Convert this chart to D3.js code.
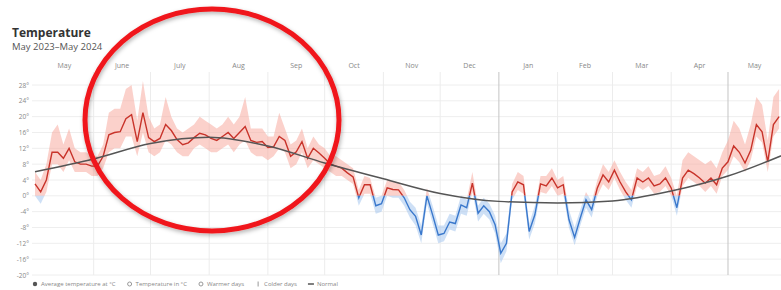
<!DOCTYPE html>
<html>
<head>
<meta charset="utf-8">
<script src="https://cdn.jsdelivr.net/npm/d3@7"></script>
<style>
  body { margin: 0; background: #fff; }
  svg { display: block; font-family: "Open Sans", "DejaVu Sans", sans-serif; }
</style>
</head>
<body>
<svg width="781" height="290"></svg>
<script>
const width = 781;
const height = 290;

// readings every 3 days from 1 May 2023
const startDate = new Date(2023, 4, 1);
const stepDays = 3;

const meanTemp = [
  3, 1, 4, 11, 11, 9.5, 12, 8.6, 8, 8, 7.5, 7.5, 10,
  15.4, 16, 16.2, 19.5, 20.5, 13.7, 21, 14.7,
  13.7, 14.5, 18, 16.5, 14.2, 12.9, 13.4, 14.7, 15.8, 15.4, 14.5, 14, 15, 16, 14.5, 16, 17.5, 14, 13.5, 13.7,
  12.2, 12.4, 15, 14, 10, 11.1, 13.7, 9.5, 12, 10.8, 9.5, 8, 7.5, 7, 5.8, 4.8,
  -0.5, 2.8, 2.8, -2.5, -2, 2, 1.6, 1.5, -0.5, -3.5, -5.2, -9.9, 0, -4.8, -9.9, -9.5, -6.6, -7, -2.3, -3,
  3.2, -4.4, -2.5, -4, -7.3, -14.5, -12, 1, 3.5, 2.8, -9, -4.8, 3, 2.5, 4.5, 2, 2.8, -6, -10.5, -5.6, -1,
  -3.5, 2, 5.3, 3.5, 6.5, 3.5, 1, -1, 4.5, 3.5, 4.5, 2.5, 3, 4.5, 2, -3, 4.5, 6.5, 5.6, 4.5, 3.2, 4.5,
  2.8, 7, 8.6, 12.6, 11, 8.3, 11.5, 18, 16.2, 8.6, 18, 20
];

const maxTemp = [
  6, 4, 8, 16, 18, 13, 17, 12, 11, 11, 10, 10, 13,
  21, 22, 22, 27, 28, 19, 29, 20,
  17, 18, 25, 20, 17, 16, 17, 18, 20, 19, 18, 17, 18, 20, 18, 20, 25, 17, 17, 17,
  15, 15, 21, 17, 13, 14, 17, 12, 15, 13, 12, 10, 10, 9, 8, 7,
  1.5, 5, 4.5, -0.5, 0, 4, 3.5, 3.5, 1.5, -1.5, -3, -7.5, 2, -2.5, -7.5, -7.5, -4.5, -5, 0, -1,
  6, -2.5, -0.5, -2, -5, -12, -9.5, 3, 6, 5, -7, -2.5, 5, 5, 7, 4, 5, -3.5, -8, -3.5, 1,
  -1.5, 4, 8, 6, 9, 6, 3.5, 1.5, 7, 6, 7.5, 5, 5.5, 7.5, 4.5, 0, 9, 11, 10, 9, 8, 9,
  7, 11, 14, 19, 17, 13, 18, 25, 23, 14, 25, 27
];

const minTemp = [
  0, -2, 1, 8, 8, 6, 9, 6, 6, 6, 5, 5, 7,
  11, 12, 12, 15, 15, 10, 16, 11,
  10, 11, 14, 13, 11, 10, 10, 12, 13, 12, 11, 11, 12, 13, 11, 13, 14, 11, 10, 10,
  9, 10, 12, 11, 7, 8, 11, 7, 9, 8, 7, 6, 5, 5, 4, 3,
  -2.5, 0.5, 0.5, -4.5, -4, 0, -0.5, -0.5, -2.5, -5.5, -7.5, -12, -2, -7, -12, -11.5, -8.5, -9, -4.5, -5,
  1, -6.5, -4.5, -6, -9.5, -17, -14, -1, 1.5, 0.5, -11, -7, 1, 0.5, 2.5, 0, 0.5, -8, -12.5, -7.5, -3,
  -5.5, 0, 3, 1.5, 4.5, 1.5, -1, -3, 2.5, 1.5, 2.5, 0.5, 1, 2.5, 0, -5, 2.5, 4.5, 3.5, 2.5, 1, 2.5,
  0.5, 5, 6.5, 10, 8.5, 6, 9, 15, 13.5, 6, 15, 17
];

// normal curve, value on the 1st of each month (May 2023 .. Jun 2024)
const normalTemp = [6.1, 9.3, 13.2, 14.8, 12.6, 8.3, 4.3, 0.6, -1.4, -1.8, -1.3, 1.2, 5.0, 10.7];

const monthLabels = ["May", "June", "July", "Aug", "Sep", "Oct", "Nov", "Dec", "Jan", "Feb", "Mar", "Apr", "May"];
const yTicks = [28, 24, 20, 16, 12, 8, 4, 0, -4, -8, -12, -16, -20];

const legendItems = [
  { label: "Average temperature at °C", type: "dot", color: "#555" },
  { label: "Temperature in °C", type: "ring", color: "#999" },
  { label: "Warmer days", type: "ring", color: "#999" },
  { label: "Colder days", type: "bar", color: "#999" },
  { label: "Normal", type: "line", color: "#555" }
];

const days = meanTemp.map((v, i) => ({
  date: d3.timeDay.offset(startDate, i * stepDays),
  mean: v,
  max: maxTemp[i],
  min: minTemp[i]
}));
const normals = normalTemp.map((v, i) => ({ date: d3.timeMonth.offset(startDate, i), value: v }));

const plotTop = 72, plotBottom = 275, plotLeft = 32;

const x = d3.scaleTime()
  .domain([startDate, new Date(2024, 4, 29)])
  .range([35, width]);

const y = d3.scaleLinear()
  .domain([-20, 28])
  .range([275, 85]);

const svg = d3.select("svg");
const defs = svg.append("defs");

// title
svg.append("text")
  .attr("x", 12).attr("y", 37)
  .attr("font-size", 12).attr("font-weight", 700).attr("fill", "#333")
  .text("Temperature");
svg.append("text")
  .attr("x", 12).attr("y", 50)
  .attr("font-size", 9.5).attr("fill", "#555")
  .text("May 2023–May 2024");

// horizontal grid + y labels
svg.append("g")
  .selectAll("line")
  .data(yTicks)
  .join("line")
  .attr("x1", plotLeft).attr("x2", width)
  .attr("y1", d => y(d)).attr("y2", d => y(d))
  .attr("stroke", "#eeeeee");

svg.append("g")
  .selectAll("text")
  .data(yTicks)
  .join("text")
  .attr("x", 29).attr("y", d => y(d) + 2.5)
  .attr("text-anchor", "end")
  .attr("font-size", 6.5).attr("fill", "#888")
  .text(d => d + "°");

// month grid
const months = d3.timeMonth.range(startDate, new Date(2024, 5, 1));
svg.append("g")
  .selectAll("line")
  .data(months.slice(1))
  .join("line")
  .attr("x1", d => x(d)).attr("x2", d => x(d))
  .attr("y1", plotTop).attr("y2", plotBottom)
  .attr("stroke", d => (d.getMonth() === 0 || +d === +new Date(2024, 4, 1)) ? "#c4c4c4" : "#ececec");

svg.append("g")
  .selectAll("text")
  .data(months)
  .join("text")
  .attr("x", d => {
    const x0 = Math.max(x(d), 35);
    const x1 = Math.min(x(d3.timeMonth.offset(d, 1)), width);
    return (x0 + x1) / 2;
  })
  .attr("y", 68)
  .attr("text-anchor", "middle")
  .attr("font-size", 7).attr("fill", "#888")
  .text((d, i) => monthLabels[i]);

// above / below freezing
defs.append("clipPath").attr("id", "above")
  .append("rect").attr("x", plotLeft).attr("y", plotTop)
  .attr("width", width - plotLeft).attr("height", y(0) - plotTop);
defs.append("clipPath").attr("id", "below")
  .append("rect").attr("x", plotLeft).attr("y", y(0))
  .attr("width", width - plotLeft).attr("height", plotBottom - y(0));

const band = d3.area()
  .x(d => x(d.date)).y0(d => y(d.min)).y1(d => y(d.max));
const line = d3.line()
  .x(d => x(d.date)).y(d => y(d.mean));

const warm = svg.append("g").attr("clip-path", "url(#above)");
warm.append("path").datum(days).attr("d", band)
  .attr("fill", "#f7a398").attr("fill-opacity", 0.5);
warm.append("path").datum(days).attr("d", line)
  .attr("fill", "none").attr("stroke", "#c8332a").attr("stroke-width", 1.4);

const cold = svg.append("g").attr("clip-path", "url(#below)");
cold.append("path").datum(days).attr("d", band)
  .attr("fill", "#9dc1ee").attr("fill-opacity", 0.5);
cold.append("path").datum(days).attr("d", line)
  .attr("fill", "none").attr("stroke", "#3a78cc").attr("stroke-width", 1.4);

defs.append("clipPath").attr("id", "plot")
  .append("rect").attr("x", plotLeft).attr("y", plotTop)
  .attr("width", width - plotLeft).attr("height", plotBottom - plotTop);

svg.append("path")
  .datum(normals)
  .attr("clip-path", "url(#plot)")
  .attr("d", d3.line().x(d => x(d.date)).y(d => y(d.value)).curve(d3.curveMonotoneX))
  .attr("fill", "none").attr("stroke", "#555").attr("stroke-width", 1.5);

// legend
const legend = svg.append("g").attr("transform", "translate(35,284)");
let lx = 0;
legendItems.forEach(item => {
  const g = legend.append("g").attr("transform", `translate(${lx},0)`);
  if (item.type === "dot") g.append("circle").attr("r", 2.2).attr("fill", item.color);
  if (item.type === "ring") g.append("circle").attr("r", 2).attr("fill", "none").attr("stroke", item.color);
  if (item.type === "bar") g.append("line").attr("y1", -2.5).attr("y2", 2.5).attr("stroke", item.color);
  if (item.type === "line") g.append("line").attr("x1", -3).attr("x2", 3).attr("stroke", item.color).attr("stroke-width", 1.5);
  const t = g.append("text").attr("x", 6).attr("y", 2.2)
    .attr("font-size", 6).attr("fill", "#888").text(item.label);
  lx += 6 + t.node().getComputedTextLength() + 14;
});

// highlight ring drawn over the summer months
const shadow = defs.append("filter").attr("id", "shadow")
  .attr("x", "-20%").attr("y", "-20%").attr("width", "140%").attr("height", "140%");
shadow.append("feDropShadow")
  .attr("dx", 1).attr("dy", 2).attr("stdDeviation", 2)
  .attr("flood-color", "#000").attr("flood-opacity", 0.3);

svg.append("ellipse")
  .attr("cx", 212).attr("cy", 120)
  .attr("rx", 127).attr("ry", 111)
  .attr("fill", "none")
  .attr("stroke", "#f0161a").attr("stroke-width", 5)
  .attr("filter", "url(#shadow)");
</script>
</body>
</html>
